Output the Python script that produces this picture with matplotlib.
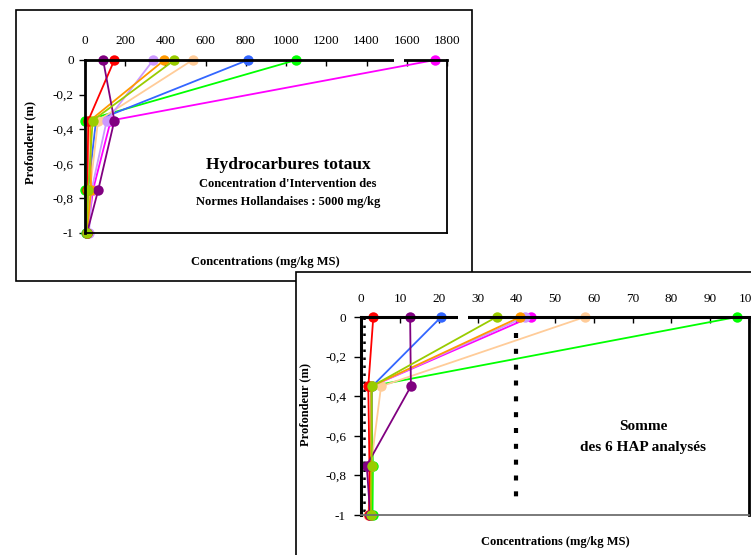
import matplotlib
matplotlib.use("Agg")
import matplotlib.pyplot as plt
from matplotlib.patches import Rectangle
from matplotlib.ticker import FuncFormatter

plt.rcParams['font.family'] = ['Liberation Serif', 'DejaVu Serif']

W, H = 751, 555

depths = [0, -0.35, -0.75, -1]
names = ['magenta', 'green', 'blue', 'peach', 'lavender', 'orange', 'red', 'purple', 'yellowgreen']
colors = ['#FF00FF', '#00FF00', '#3366FF', '#FFCC99', '#CC99FF', '#FF9900', '#FF0000', '#800080', '#99CC00']

# Hydrocarbures totaux (mg/kg MS)
hct_magenta = [1740, 128, 40, 12]
hct_green = [1050, 0, 0, 5]
hct_blue = [810, 55, 15, 8]
hct_peach = [535, 65, 25, 10]
hct_lavender = [340, 108, 33, 20]
hct_orange = [395, 25, 30, 10]
hct_red = [146, 16, 12, 8]
hct_purple = [90, 146, 66, 10]
hct_yellowgreen = [445, 38, 16, 8]
hct = [hct_magenta, hct_green, hct_blue, hct_peach, hct_lavender, hct_orange,
       hct_red, hct_purple, hct_yellowgreen]

# Somme des 6 HAP (mg/kg MS)
hap_magenta = [43.7, 2.6, 2.6, 2.3]
hap_green = [96.9, 2.5, 3.0, 2.9]
hap_blue = [20.6, 2.8, 2.5, 2.4]
hap_peach = [57.7, 5.1, 2.5, 1.8]
hap_lavender = [42.2, 2.6, 2.5, 2.3]
hap_orange = [41.0, 2.6, 2.5, 2.4]
hap_red = [3.1, 1.8, 2.1, 2.0]
hap_purple = [12.6, 12.8, 1.4, 2.3]
hap_yellowgreen = [34.9, 2.7, 2.7, 2.5]
hap = [hap_magenta, hap_green, hap_blue, hap_peach, hap_lavender, hap_orange,
       hap_red, hap_purple, hap_yellowgreen]

hap_low_ref = 0.7
hap_high_ref = 40

x1_ticks = [0, 200, 400, 600, 800, 1000, 1200, 1400, 1600, 1800]
x2_ticks = [0, 10, 20, 30, 40, 50, 60, 70, 80, 90, 100]
y_ticks = [0, -0.2, -0.4, -0.6, -0.8, -1]


def fx(x):
    return x / W


def fy(y):
    return 1 - y / H


def ax_rect(l, t, r, b):
    return [fx(l), fy(b), (r - l) / W, (b - t) / H]


def yfmt(v, pos):
    if abs(v) < 1e-9:
        return '0'
    if abs(v + 1) < 1e-9:
        return '-1'
    return ('%.1f' % v).replace('.', ',')


fig = plt.figure(figsize=(W / 100, H / 100), dpi=100)

# ---- top panel frame
fig.add_artist(Rectangle((fx(16), fy(281)), (472 - 16) / W, (281 - 10) / H,
                         transform=fig.transFigure, facecolor='white',
                         edgecolor='black', lw=1.2, zorder=0))

ax1 = fig.add_axes(ax_rect(85, 60, 447, 233), zorder=1)
ax1.set_facecolor('white')
for vals, c in zip(hct, colors):
    ax1.plot(vals, depths, '-o', color=c, lw=1.3, ms=7.5, mew=0, clip_on=False)
ax1.set_xlim(0, 1800)
ax1.set_ylim(-1, 0)
ax1.xaxis.tick_top()
ax1.set_xticks(x1_ticks)
ax1.set_yticks(y_ticks)
ax1.yaxis.set_major_formatter(FuncFormatter(yfmt))
ax1.tick_params(axis='x', direction='in', length=4, pad=9, labelsize=9.5, width=1)
ax1.tick_params(axis='y', direction='out', length=4, pad=4, labelsize=9.5, width=1)
for s in ax1.spines.values():
    s.set_linewidth(1.3)
    s.set_color('black')
ax1.spines['top'].set_linewidth(2)
ax1.spines['left'].set_linewidth(2)

fig.text(fx(30), fy(142), 'Profondeur (m)', rotation=90, ha='center', va='center',
         fontsize=9, fontweight='bold', zorder=1.5)
fig.text(fx(265), fy(262), 'Concentrations (mg/kg MS)', ha='center', va='center',
         fontsize=9, fontweight='bold', zorder=1.5)
fig.text(fx(288), fy(165), 'Hydrocarbures totaux', ha='center', va='center',
         fontsize=12.5, fontweight='bold', zorder=1.5)
fig.text(fx(288), fy(184), "Concentration d'Intervention des", ha='center', va='center',
         fontsize=9, fontweight='bold', zorder=1.5)
fig.text(fx(288), fy(202), 'Normes Hollandaises : 5000 mg/kg', ha='center', va='center',
         fontsize=9, fontweight='bold', zorder=1.5)
# gap in top axis line
fig.add_artist(Rectangle((fx(394), fy(63)), 10 / W, 6 / H, transform=fig.transFigure,
                         facecolor='white', edgecolor='none', zorder=1.6))

# ---- bottom panel frame
fig.add_artist(Rectangle((fx(296), fy(570)), (770 - 296) / W, (570 - 272) / H,
                         transform=fig.transFigure, facecolor='white',
                         edgecolor='black', lw=1.2, zorder=2))

ax2 = fig.add_axes(ax_rect(361.3, 317, 748.8, 515), zorder=3)
ax2.set_facecolor('white')
ax2.plot([hap_low_ref, hap_low_ref], [0, -1], color='black', lw=1.8,
         linestyle=(0, (1, 2.2)), clip_on=False)
ax2.plot([hap_high_ref, hap_high_ref], [-0.08, -0.95], color='black', lw=3,
         linestyle=(0, (1.2, 2.6)))
for vals, c in zip(hap, colors):
    ax2.plot(vals, depths, '-o', color=c, lw=1.3, ms=7.5, mew=0, clip_on=False)
ax2.set_xlim(0, 100)
ax2.set_ylim(-1, 0)
ax2.xaxis.tick_top()
ax2.set_xticks(x2_ticks)
ax2.set_yticks(y_ticks)
ax2.yaxis.set_major_formatter(FuncFormatter(yfmt))
ax2.tick_params(axis='x', direction='in', length=4, pad=9, labelsize=9.5, width=1)
ax2.tick_params(axis='y', direction='out', length=5, pad=6, labelsize=9.5, width=1)
for s in ax2.spines.values():
    s.set_linewidth(1.3)
    s.set_color('black')
ax2.spines['top'].set_linewidth(2.2)
ax2.spines['left'].set_linewidth(2.2)
ax2.spines['bottom'].set_color('#707070')
ax2.spines['right'].set_linewidth(2)

fig.text(fx(305), fy(405), 'Profondeur (m)', rotation=90, ha='center', va='center',
         fontsize=9, fontweight='bold', zorder=4)
fig.text(fx(555), fy(542), 'Concentrations (mg/kg MS)', ha='center', va='center',
         fontsize=9, fontweight='bold', zorder=4)
fig.text(fx(643), fy(427), 'Somme', ha='center', va='center',
         fontsize=11, fontweight='bold', zorder=4)
fig.text(fx(643), fy(448), 'des 6 HAP analysés', ha='center', va='center',
         fontsize=11, fontweight='bold', zorder=4)
fig.add_artist(Rectangle((fx(458), fy(320)), 10 / W, 7 / H, transform=fig.transFigure,
                         facecolor='white', edgecolor='none', zorder=4))

fig.savefig('out.png', dpi=100)
